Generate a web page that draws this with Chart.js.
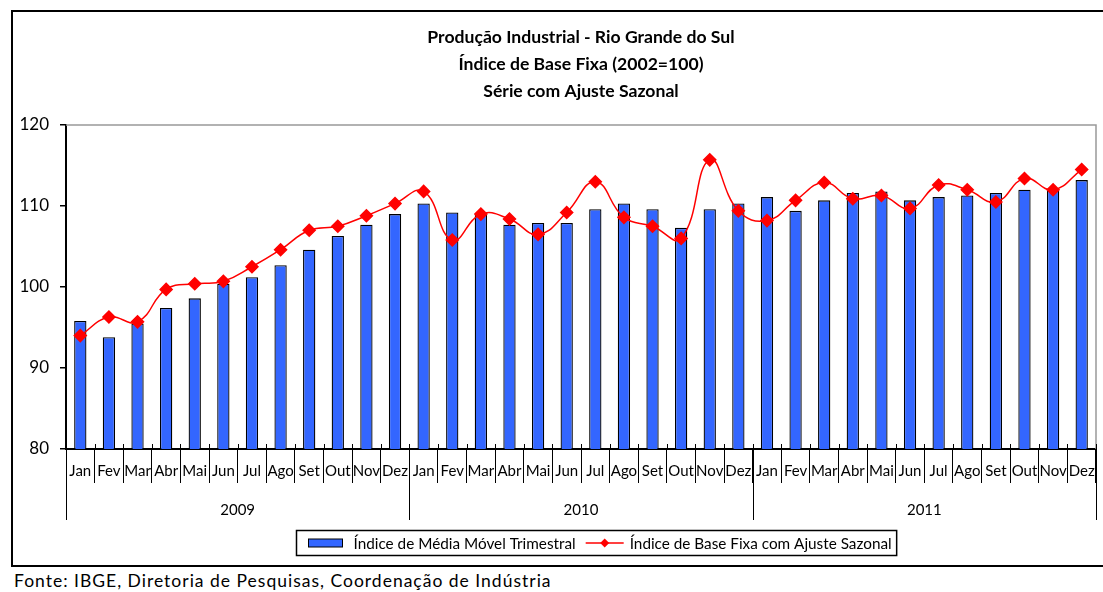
<html>
<head>
<meta charset="utf-8">
<title>Produção Industrial - RS</title>
<script src="https://cdn.jsdelivr.net/npm/chart.js@4.4.0/dist/chart.umd.min.js"></script>
<style>
  html, body { margin: 0; padding: 0; background: #fff; overflow: hidden; }
  #box { position: absolute; left: 11px; top: 10px; width: 1136px; height: 553px; border: 2px solid #000; }
  #fonte { position: absolute; left: 14px; top: 570px; font: 17.5px Lato, sans-serif; letter-spacing: 1px; color: #000; white-space: nowrap; }
</style>
</head>
<body>
<div id="box"><canvas id="chart" width="1136" height="553"></canvas></div>
<div id="fonte">Fonte: IBGE, Diretoria de Pesquisas, Coordenação de Indústria</div>
<script>
var meses = ['Jan','Fev','Mar','Abr','Mai','Jun','Jul','Ago','Set','Out','Nov','Dez'];
var anos = ['2009','2010','2011'];
var titulo = ['Produção Industrial - Rio Grande do Sul', 'Índice de Base Fixa (2002=100)', 'Série com Ajuste Sazonal'];
// Índice de Média Móvel Trimestral
var mediaMovel = [95.8, 93.8, 95.5, 97.4, 98.6, 100.4, 101.2, 102.7, 104.6, 106.3, 107.7, 109.0,
                  110.3, 109.2, 109.1, 107.7, 107.9, 107.9, 109.6, 110.3, 109.6, 107.3, 109.6, 110.3,
                  111.1, 109.4, 110.7, 111.6, 111.8, 110.7, 111.1, 111.3, 111.6, 112.0, 111.9, 113.2];
// Índice de Base Fixa com Ajuste Sazonal
var ajusteSazonal = [94.0, 96.3, 95.7, 99.7, 100.4, 100.7, 102.5, 104.6, 107.0, 107.5, 108.8, 110.3,
                     111.8, 105.8, 109.0, 108.4, 106.5, 109.2, 113.0, 108.6, 107.5, 106.0, 115.7, 109.4,
                     108.2, 110.7, 112.9, 110.9, 111.3, 109.7, 112.6, 112.0, 110.5, 113.4, 112.0, 114.5];

var labels = [];
anos.forEach(function(a) { meses.forEach(function(m) { labels.push(m); }); });

var FONT = 'Lato, sans-serif';

var extras = {
  id: 'extras',
  beforeDatasetsDraw: function(chart) {
    var ctx = chart.ctx, a = chart.chartArea;
    ctx.save();
    ctx.strokeStyle = '#999';
    ctx.lineWidth = 1.5;
    ctx.beginPath();
    ctx.moveTo(a.left, a.top);
    ctx.lineTo(a.right, a.top);
    ctx.lineTo(a.right, a.bottom);
    ctx.stroke();
    ctx.restore();
  },
  afterDraw: function(chart) {
    var ctx = chart.ctx, a = chart.chartArea, x = chart.scales.x;
    ctx.save();
    // title, centred over the plot area
    ctx.fillStyle = '#000';
    ctx.font = 'bold 17.6px ' + FONT;
    ctx.textAlign = 'center';
    ctx.textBaseline = 'middle';
    titulo.forEach(function(t, k) { ctx.fillText(t, (a.left + a.right) / 2, 25 + k * 27); });

    ctx.strokeStyle = '#000';
    ctx.lineWidth = 1;
    // small ticks above axis
    for (var i = 0; i <= labels.length; i++) {
      var px = Math.round(x.getPixelForValue(i - 0.5)) + 0.5;
      ctx.beginPath();
      ctx.moveTo(px, a.bottom - 5);
      ctx.lineTo(px, a.bottom);
      ctx.stroke();
    }
    // year separators and labels
    ctx.font = '15px ' + FONT;
    for (var j = 0; j <= anos.length; j++) {
      var sx = Math.round(x.getPixelForValue(j * 12 - 0.5)) + 0.5;
      ctx.beginPath();
      ctx.moveTo(sx, a.bottom);
      ctx.lineTo(sx, 508);
      ctx.stroke();
      if (j < anos.length) ctx.fillText(anos[j], x.getPixelForValue(j * 12 + 5.5), 498);
    }
    // legend
    var ds = chart.data.datasets;
    var barDs = ds[1], lineDs = ds[0];
    ctx.font = '15.3px ' + FONT;
    var w1 = ctx.measureText(barDs.label).width, w2 = ctx.measureText(lineDs.label).width;
    var total = 12 + 34 + 11 + w1 + 10 + 38 + 6 + w2 + 5;
    var lx = Math.round(583 - total / 2) + 0.5, ly = 518.5, lh = 25, cy = ly + lh / 2;
    ctx.lineWidth = 1.5;
    ctx.strokeRect(lx, ly, total, lh);
    var cx = lx + 12;
    ctx.fillStyle = barDs.backgroundColor;
    ctx.fillRect(cx, cy - 4, 34, 8);
    ctx.lineWidth = 1;
    ctx.strokeRect(cx, cy - 4, 34, 8);
    cx += 34 + 11;
    ctx.fillStyle = '#000';
    ctx.textAlign = 'left';
    ctx.fillText(barDs.label, cx, cy + 1);
    cx += w1 + 10;
    ctx.strokeStyle = lineDs.borderColor;
    ctx.lineWidth = 1.5;
    ctx.beginPath();
    ctx.moveTo(cx, cy);
    ctx.lineTo(cx + 38, cy);
    ctx.stroke();
    ctx.fillStyle = lineDs.pointBackgroundColor;
    ctx.beginPath();
    ctx.moveTo(cx + 19, cy - 4.5);
    ctx.lineTo(cx + 23.5, cy);
    ctx.lineTo(cx + 19, cy + 4.5);
    ctx.lineTo(cx + 14.5, cy);
    ctx.closePath();
    ctx.fill();
    cx += 38 + 6;
    ctx.fillStyle = '#000';
    ctx.fillText(lineDs.label, cx, cy + 1);
    ctx.restore();
  }
};

new Chart(document.getElementById('chart'), {
  data: {
    labels: labels,
    datasets: [
      {
        type: 'line',
        label: 'Índice de Base Fixa com Ajuste Sazonal',
        data: ajusteSazonal,
        borderColor: '#FF0000',
        backgroundColor: '#FF0000',
        pointBackgroundColor: '#FF0000',
        pointBorderColor: '#FF0000',
        borderWidth: 1.5,
        pointStyle: 'rectRot',
        pointRadius: 6,
        tension: 0.45,
        fill: false
      },
      {
        type: 'bar',
        label: 'Índice de Média Móvel Trimestral',
        data: mediaMovel,
        backgroundColor: '#3366FF',
        borderColor: '#000',
        borderWidth: 1.3,
        barPercentage: 0.43,
        categoryPercentage: 1.0
      }
    ]
  },
  options: {
    responsive: false,
    animation: false,
    layout: { padding: { left: 0, right: 53, top: 113, bottom: 0 } },
    plugins: {
      legend: { display: false },
      tooltip: { enabled: false },
      title: { display: false }
    },
    scales: {
      x: {
        type: 'category',
        offset: true,
        grid: { display: true, drawOnChartArea: false, drawTicks: true, tickLength: 34, color: '#000', lineWidth: 1, offset: true },
        border: { display: true, color: '#000', width: 2 },
        ticks: { color: '#000', font: { family: FONT, size: 15 }, maxRotation: 0, autoSkip: false, padding: -21 },
        afterFit: function(s) { s.height = 116; }
      },
      y: {
        min: 80,
        max: 120,
        ticks: { stepSize: 10, color: '#000', font: { family: FONT, size: 17 }, padding: 11 },
        grid: { drawOnChartArea: false, drawTicks: true, tickLength: 6, color: '#000', lineWidth: 1.5 },
        border: { display: true, color: '#000', width: 2 },
        afterFit: function(s) { s.width = 53; }
      }
    }
  },
  plugins: [extras]
});
</script>
</body>
</html>
